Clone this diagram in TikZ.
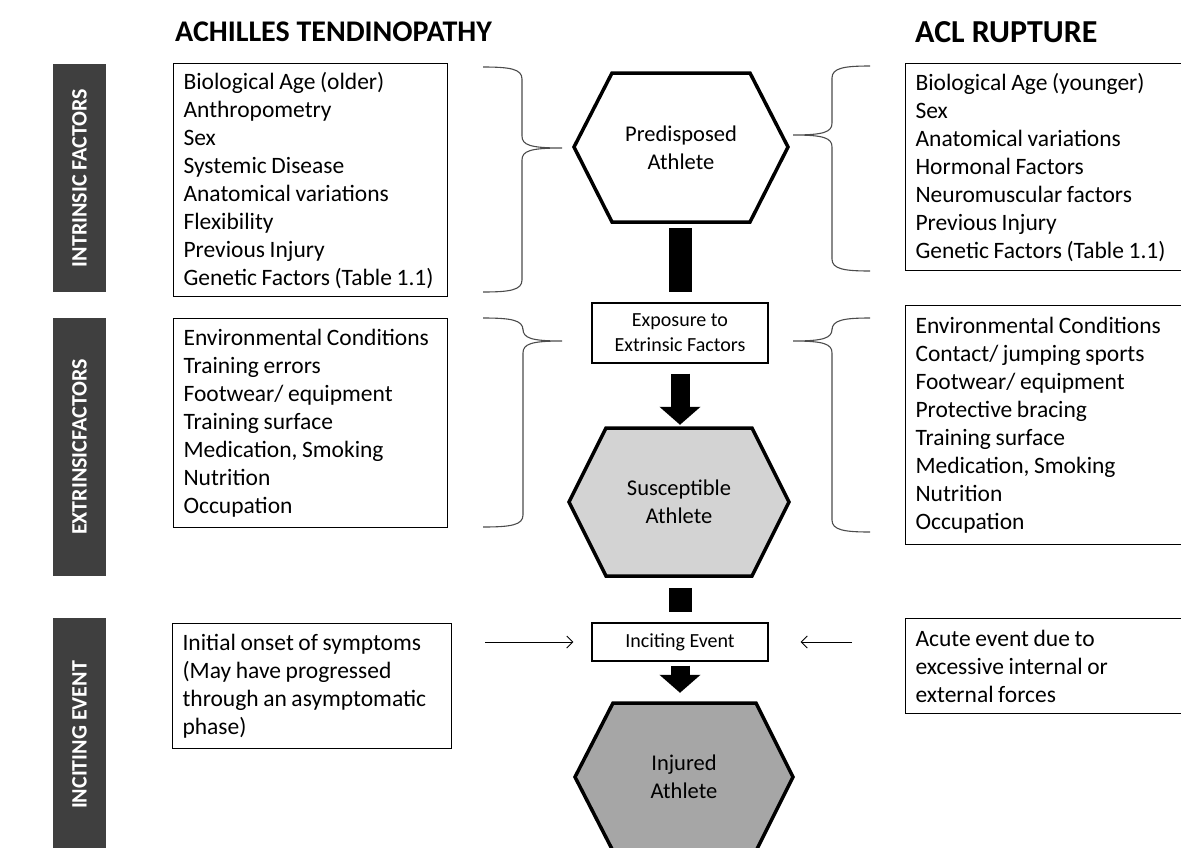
\documentclass[tikz,border=0pt]{standalone}
\usepackage{fontspec}
\setmainfont{Carlito}
\usetikzlibrary{arrows.meta, positioning, calc}

\definecolor{bardark}{HTML}{3F3F3F}
\definecolor{suscfill}{HTML}{D3D3D3}
\definecolor{injfill}{HTML}{A6A6A6}

\tikzset{
  sidebar/.style={fill=bardark, rotate=90, minimum height=53pt, inner sep=0pt,
    text=white, font=\fontsize{22}{26}\selectfont\bfseries},
  heading/.style={anchor=west, inner sep=0pt, font=\fontsize{30}{34}\selectfont\bfseries},
  listbox/.style={draw, line width=1.1pt, anchor=north west, align=left,
    inner xsep=10pt, inner ysep=0pt, font=\fontsize{23.5}{28}\selectfont,
    execute at begin node={\spaceskip=4.6pt\relax}},
  hexline/.style={draw, line width=3.5pt, line join=miter},
  hextext/.style={minimum width=200pt, minimum height=#1, inner sep=0pt,
    align=center, font=\fontsize{22.5}{28}\selectfont},
  stepbox/.style={draw, line width=1.1pt, minimum width=176pt, inner sep=0pt,
    align=center, font=\fontsize{20}{25}\selectfont},
  blockbar/.style={line width=23pt},
  blockarrow/.style={line width=19pt, -{Triangle[length=18pt 0 0, width=40pt 0 0]}},
  thinarrow/.style={line width=1pt, -{Straight Barb[length=6pt 0 0, width=12pt 0 0]}},
  brace/.style={line width=1.1pt, draw=black!70},
}

\begin{document}
\begin{tikzpicture}[x=1pt, y=-1pt]
\useasboundingbox (0,0) rectangle (1181,847);
\clip (0,0) rectangle (1181,847);

% side bars
\node[sidebar, minimum width=228pt] (intr) at (79.5,178) {INTRINSIC FACTORS};
\node[sidebar, minimum width=258pt] (extr) at (79.5,447) {EXTRINSICFACTORS};
\node[sidebar, minimum width=234pt] (incb) at (79.5,735) {INCITING EVENT};

% headings
\node[heading] (achhead) at (175,32) {ACHILLES TENDINOPATHY};
\node[heading, font=\fontsize{32}{36}\selectfont\bfseries] (aclhead) at (915,32) {ACL RUPTURE};

% Achilles lists
\node[listbox, text width=254pt, minimum height=233pt] (achint) at (173,63)
  {Biological Age (older)\\Anthropometry\\Sex\\Systemic Disease\\Anatomical variations\\Flexibility\\Previous Injury\\Genetic Factors (Table 1.1)};
\node[listbox, text width=254pt, minimum height=209pt] (achext) at (173,318)
  {Environmental Conditions\\Training errors\\Footwear/ equipment\\Training surface\\Medication, Smoking\\Nutrition\\Occupation};
\node[listbox, text width=259pt, minimum height=125pt] (achinc) at (172,623)
  {Initial onset of symptoms\\(May have progressed\\through an asymptomatic\\phase)};

% ACL lists
\node[listbox, text width=270pt, minimum height=207pt] (aclint) at (905,63)
  {Biological Age (younger)\\Sex\\Anatomical variations\\Hormonal Factors\\Neuromuscular factors\\Previous Injury\\Genetic Factors (Table 1.1)};
\node[listbox, text width=270pt, minimum height=239pt] (aclext) at (905,305)
  {Environmental Conditions\\Contact/ jumping sports\\Footwear/ equipment\\Protective bracing\\Training surface\\Medication, Smoking\\Nutrition\\Occupation};
\node[listbox, text width=270pt, minimum height=95pt] (aclinc) at (905,618)
  {Acute event due to\\excessive internal or\\external forces};

% hexagons
\draw[hexline, fill=white] (612,73) -- (750,73) -- (788,147) -- (750,222) -- (612,222) -- (574,147) -- cycle;
\draw[hexline, fill=suscfill] (606,428) -- (752,428) -- (789,502) -- (752,576) -- (606,576) -- (569,502) -- cycle;
\draw[hexline, fill=injfill] (613,703) -- (756,703) -- (793,777) -- (756,851) -- (613,851) -- (575,777) -- cycle;
\node[hextext=149pt] (pre) at (681,147.5) {Predisposed\\Athlete};
\node[hextext=148pt] (sus) at (679,502) {Susceptible\\Athlete};
\node[hextext=148pt] (inj) at (684,777) {Injured\\Athlete};

% middle steps
\node[stepbox, minimum height=60pt] (expo) at (680,333) {Exposure to\\Extrinsic Factors};
\node[stepbox, minimum height=38pt] (inc) at (680,642) {Inciting Event};

% block arrows
\draw[blockbar, shorten <=6pt, shorten >=10pt] (expo.north |- pre.south) -- (expo.north);
\draw[blockarrow, shorten <=10pt, shorten >=3pt] (expo.south) -- (expo.south |- sus.north);
\draw[blockbar, shorten <=12pt, shorten >=10pt] (inc.north |- sus.south) -- (inc.north);
\draw[blockarrow, shorten <=4pt, shorten >=10pt] (inc.south) -- (inc.south |- inj.north);

% braces
\foreach \xe/\xv/\xt/\ya/\yt/\yb in {483/522/562/67/148/292, 483/523/562/318/341/527,
                                     870/832/793/66/135/271, 870/832/793/318/341/532} {
  \pgfmathsetmacro{\s}{ifthenelse(\xv>\xe,1,-1)}
  \draw[brace] (\xe,\ya) .. controls ({\xv-12*\s},\ya) and (\xv,{\ya+2}) .. (\xv,{\ya+12})
    -- (\xv,{\yt-12}) .. controls (\xv,{\yt-3}) and ({\xv+8*\s},\yt) .. (\xt,\yt)
    .. controls ({\xv+8*\s},\yt) and (\xv,{\yt+3}) .. (\xv,{\yt+12})
    -- (\xv,{\yb-12}) .. controls (\xv,{\yb-2}) and ({\xv-12*\s},\yb) .. (\xe,\yb);
}

% thin arrows to inciting event
\coordinate (achin) at (485,642);
\coordinate (aclin) at (852,642);
\draw[thinarrow, shorten >=18pt] (achin) -- (inc.west);
\draw[thinarrow, shorten >=32pt] (aclin) -- (inc.east);
\end{tikzpicture}
\end{document}
